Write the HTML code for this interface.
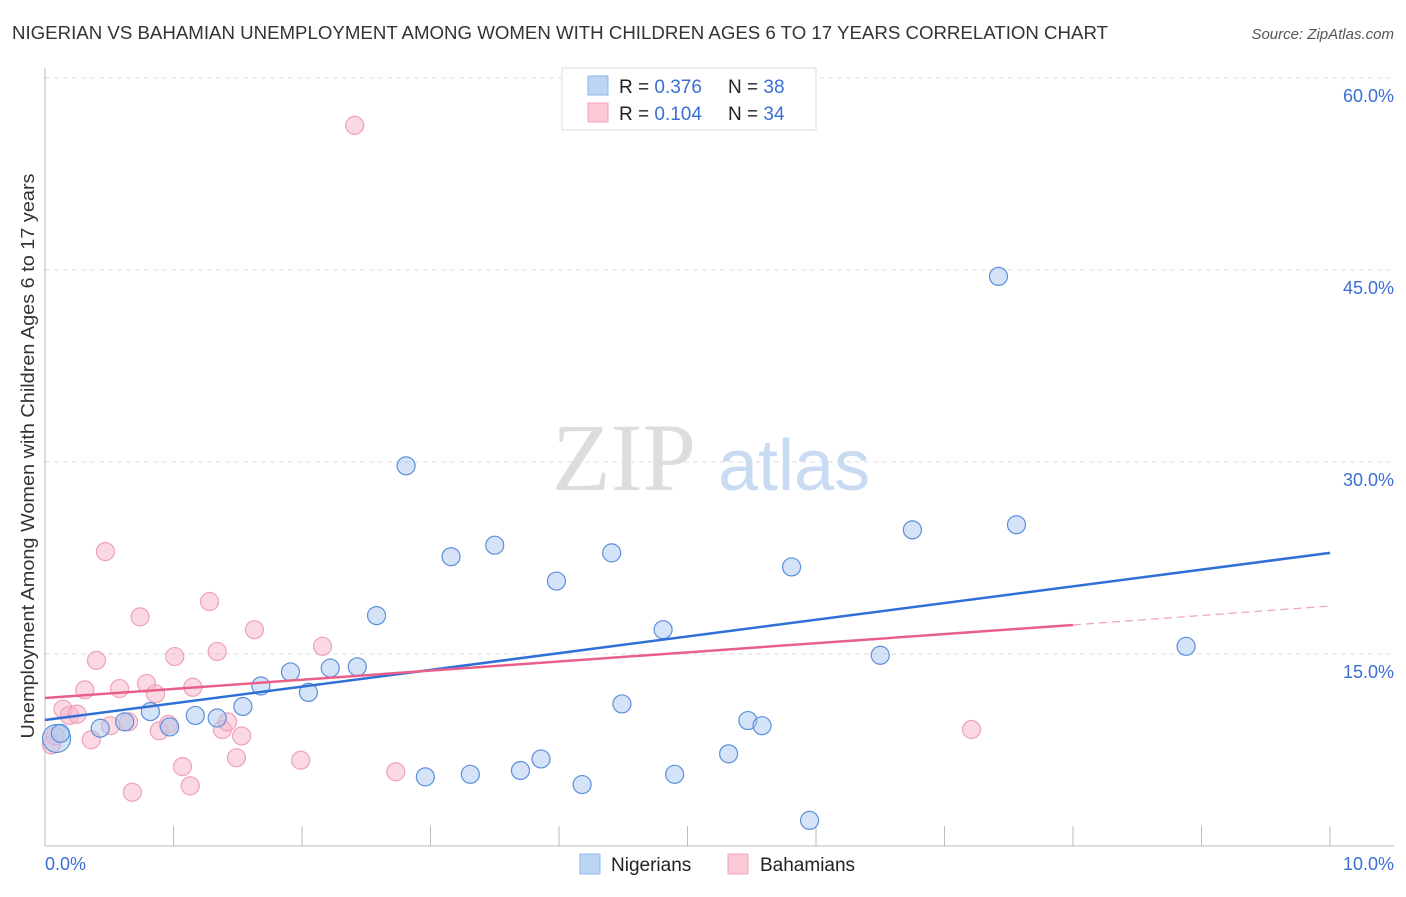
<!DOCTYPE html>
<html><head><meta charset="utf-8"><style>
body{margin:0;background:#fff;font-family:"Liberation Sans",sans-serif}
</style></head><body>
<svg width="1406" height="892" xmlns="http://www.w3.org/2000/svg">
<text x="12" y="39" font-size="18" fill="#333" textLength="1096" lengthAdjust="spacingAndGlyphs">NIGERIAN VS BAHAMIAN UNEMPLOYMENT AMONG WOMEN WITH CHILDREN AGES 6 TO 17 YEARS CORRELATION CHART</text>
<text x="1394" y="39" font-size="15" fill="#555" font-style="italic" text-anchor="end">Source: ZipAtlas.com</text>
<g id="grid"></g>
<text x="552" y="490" font-size="96" fill="#ddd" font-family="Liberation Serif">ZIP</text>
<text x="718" y="490" font-size="72" fill="#c9dbf3">atlas</text>
<line x1="45" y1="68" x2="45" y2="846" stroke="#bbb"/>
<line x1="45" y1="846" x2="1394" y2="846" stroke="#bbb"/>
<g id="xticks"></g>
<g id="ylabels"></g>
<text x="45" y="870" font-size="18" fill="#3b6fd4">0.0%</text>
<text x="1394" y="870" font-size="18" fill="#3b6fd4" text-anchor="end">10.0%</text>
<text transform="translate(34,456) rotate(-90)" font-size="18" fill="#333" text-anchor="middle" textLength="565" lengthAdjust="spacingAndGlyphs">Unemployment Among Women with Children Ages 6 to 17 years</text>
<g id="pts"></g>
<g id="lines"></g>
<g>
<rect x="562" y="68" width="254" height="62" fill="#fff" stroke="#ddd"/>
<rect x="588" y="76" width="20" height="19" fill="#bcd5f5" stroke="#8fb4e8"/>
<rect x="588" y="103" width="20" height="19" fill="#fbc8d6" stroke="#f2a3bb"/>
<text x="619" y="93" font-size="19" fill="#222">R = <tspan fill="#3b6fd4">0.376</tspan></text>
<text x="728" y="93" font-size="19" fill="#222">N = <tspan fill="#3b6fd4">38</tspan></text>
<text x="619" y="120" font-size="19" fill="#222">R = <tspan fill="#3b6fd4">0.104</tspan></text>
<text x="728" y="120" font-size="19" fill="#222">N = <tspan fill="#3b6fd4">34</tspan></text>
</g>
<g>
<rect x="580" y="854" width="20" height="20" fill="#bcd5f5" stroke="#8fb4e8"/>
<text x="611" y="871" font-size="19" fill="#222">Nigerians</text>
<rect x="728" y="854" width="20" height="20" fill="#fbc8d6" stroke="#f2a3bb"/>
<text x="760" y="871" font-size="19" fill="#222">Bahamians</text>
</g>
</svg>
<script>
const yTicks=[15,30,45,60];
const yTickLabels=["15.0%","30.0%","45.0%","60.0%"];
const xTickVals=[1,2,3,4,5,6,7,8,9,10];
const nigX=[0.09,0.43,0.62,0.82,0.97,1.17,1.34,1.54,1.68,1.91,2.05,2.22,2.43,2.58,2.81,2.96,3.16,3.31,3.50,3.70,3.86,3.98,4.18,4.41,4.49,4.81,4.90,5.32,5.47,5.58,5.81,5.95,6.50,6.75,7.42,7.56,8.88,0.12];
const nigY=[8.4,9.2,9.7,10.5,9.3,10.2,10.0,10.9,12.5,13.6,12.0,13.9,14.0,18.0,29.7,5.4,22.6,5.6,23.5,5.9,6.8,20.7,4.8,22.9,11.1,16.9,5.6,7.2,9.8,9.4,21.8,2.0,14.9,24.7,44.5,25.1,15.6,8.8];
const nigR=[14,9,9,9,9,9,9,9,9,9,9,9,9,9,9,9,9,9,9,9,9,9,9,9,9,9,9,9,9,9,9,9,9,9,9,9,9,9];
const bahX=[2.41,0.47,0.74,1.28,1.63,2.16,0.40,1.01,1.34,0.31,0.58,0.79,0.86,1.15,0.14,0.19,0.25,0.36,0.51,0.65,0.89,1.38,1.42,1.53,1.49,1.07,1.13,0.68,1.99,2.73,7.21,0.05,0.08,0.96];
const bahY=[56.3,23.0,17.9,19.1,16.9,15.6,14.5,14.8,15.2,12.2,12.3,12.7,11.9,12.4,10.7,10.2,10.3,8.3,9.4,9.7,9.0,9.1,9.7,8.6,6.9,6.2,4.7,4.2,6.7,5.8,9.1,7.9,8.6,9.5];
const nigLine=[9.84,22.9];
const bahLine=[11.56,17.27,18.75];
const X=v=>45+v*128.5, Y=v=>846-v*12.8;
const NS="http://www.w3.org/2000/svg";
function mk(t,a,p){const e=document.createElementNS(NS,t);for(const k in a)e.setAttribute(k,a[k]);p.appendChild(e);return e;}
const grid=document.getElementById('grid'),yl=document.getElementById('ylabels');
yTicks.forEach((v,i)=>{
 const l=mk('line',{x1:45,x2:1394,y1:Y(v),y2:Y(v),stroke:'#ddd','stroke-dasharray':'5,4'},grid);
 
 
 const t=mk('text',{x:1394,y:Y(v)+24,'font-size':18,fill:'#3b6fd4','text-anchor':'end'},yl);
 t.textContent=yTickLabels[i];
 
 
});
const xt=document.getElementById('xticks');
xTickVals.forEach(v=>{
 const l=mk('line',{x1:X(v),x2:X(v),y1:826,y2:846,stroke:'#bbb'},xt);
 
 
});
const pts=document.getElementById('pts');
bahX.forEach((x,i)=>{
 const c=mk('circle',{cx:X(x),cy:Y(bahY[i]),r:9,fill:'rgba(248,180,200,0.5)',stroke:'#f0a0b8','stroke-width':1.2},pts);
 
 
});
nigX.forEach((x,i)=>{
 const c=mk('circle',{cx:X(x),cy:Y(nigY[i]),r:nigR[i],fill:'rgba(170,200,240,0.5)',stroke:'#5b8fdb','stroke-width':1.2},pts);
 
 
});
const ln=document.getElementById('lines');
let a=mk('line',{x1:X(0),y1:Y(nigLine[0]),x2:X(10),y2:Y(nigLine[1]),stroke:'#2f6fd6','stroke-width':2.5},ln);


a=mk('line',{x1:X(0),y1:Y(bahLine[0]),x2:X(8),y2:Y(bahLine[1]),stroke:'#e8608a','stroke-width':2.5},ln);


a=mk('line',{x1:X(8),y1:Y(bahLine[1]),x2:X(10),y2:Y(bahLine[2]),stroke:'#f0a0b8','stroke-width':1.2,'stroke-dasharray':'8,5'},ln);


</script>
</body></html>
